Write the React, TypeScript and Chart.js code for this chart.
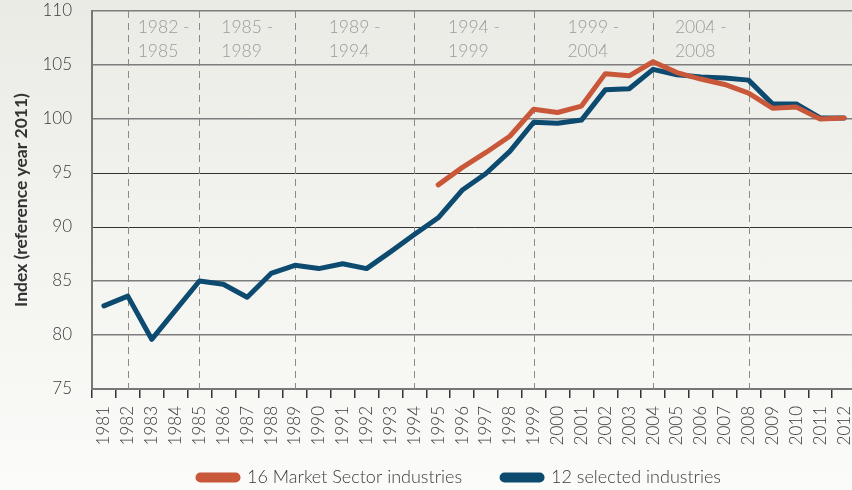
import React, { useEffect, useRef } from 'react';
import { Chart, registerables } from 'chart.js';

Chart.register(...registerables);

const years = [
  '1981', '1982', '1983', '1984', '1985', '1986', '1987', '1988', '1989', '1990',
  '1991', '1992', '1993', '1994', '1995', '1996', '1997', '1998', '1999', '2000',
  '2001', '2002', '2003', '2004', '2005', '2006', '2007', '2008', '2009', '2010',
  '2011', '2012',
];

const marketSector: (number | null)[] = [
  null, null, null, null, null, null, null, null, null, null,
  null, null, null, null, 93.9, 95.5, 96.9, 98.4, 100.9, 100.6,
  101.2, 104.2, 104.0, 105.3, 104.3, 103.7, 103.2, 102.4, 101.0, 101.1,
  100.0, 100.1,
];

const selectedIndustries = [
  82.7, 83.6, 79.6, 82.3, 85.0, 84.7, 83.5, 85.7, 86.45, 86.15,
  86.6, 86.15, 87.7, 89.3, 90.85, 93.4, 94.95, 97.0, 99.7, 99.6,
  99.9, 102.7, 102.8, 104.6, 104.1, 103.9, 103.8, 103.6, 101.4, 101.4,
  100.1, 100.1,
];

const periodBoundaries = ['1982', '1985', '1989', '1994', '1999', '2004', '2008'];

const seriesNames = ['16 Market Sector industries', '12 selected industries'];
const yTitle = 'Index (reference year 2011)';

const ORANGE = '#c9573a';
const BLUE = '#0c4a70';
const FONT = 'Lato, "Open Sans", sans-serif';

const periodPlugin = {
  id: 'periods',
  afterLayout(chart: any) {
    const lg = chart.legend;
    if (lg) {
      const dx = 31.5;
      const dy = -23.5;
      lg.left += dx;
      lg.right += dx;
      lg.top += dy;
      lg.bottom += dy;
    }
  },
  beforeDatasetsDraw(chart: any) {
    const { ctx, chartArea, scales } = chart;
    const x = scales.x;
    const px = periodBoundaries.map((y) => x.getPixelForValue(years.indexOf(y)));
    ctx.save();
    ctx.strokeStyle = '#8a8a8a';
    ctx.lineWidth = 1;
    ctx.setLineDash([7, 5]);
    px.forEach((p) => {
      const xx = Math.round(p) + 0.5;
      ctx.beginPath();
      ctx.moveTo(xx, chartArea.top);
      ctx.lineTo(xx, chartArea.bottom);
      ctx.stroke();
    });
    ctx.setLineDash([]);
    ctx.fillStyle = '#9a9a9a';
    ctx.font = `300 17.5px ${FONT}`;
    ctx.textAlign = 'left';
    ctx.textBaseline = 'alphabetic';
    for (let i = 0; i < periodBoundaries.length - 1; i++) {
      const mid = (px[i] + px[i + 1]) / 2;
      const l1 = `${periodBoundaries[i]} -`;
      const l2 = periodBoundaries[i + 1];
      const w = ctx.measureText(l1).width;
      const left = mid - w / 2;
      ctx.fillText(l1, left, chartArea.top + 22);
      ctx.fillText(l2, left, chartArea.top + 46);
    }
    ctx.restore();
  },
};

export default function App() {
  const ref = useRef<HTMLCanvasElement | null>(null);

  useEffect(() => {
    if (!ref.current) return;
    const chart = new Chart(ref.current, {
      type: 'line',
      data: {
        labels: years,
        datasets: [
          {
            label: seriesNames[0],
            data: marketSector,
            borderColor: ORANGE,
            backgroundColor: ORANGE,
            borderWidth: 5,
            pointRadius: 0,
            tension: 0,
            borderJoinStyle: 'round',
            borderCapStyle: 'round',
            spanGaps: false,
          },
          {
            label: seriesNames[1],
            data: selectedIndustries,
            borderColor: BLUE,
            backgroundColor: BLUE,
            borderWidth: 5,
            pointRadius: 0,
            tension: 0,
            borderJoinStyle: 'round',
            borderCapStyle: 'round',
          },
        ],
      },
      options: {
        responsive: false,
        animation: false,
        maintainAspectRatio: false,
        layout: { padding: { top: 11, left: 0, right: 0, bottom: 0 } },
        font: { family: FONT },
        plugins: {
          tooltip: { enabled: false },
          legend: {
            position: 'bottom',
            labels: {
              boxWidth: 40,
              boxHeight: 5,
              useBorderRadius: true,
              borderRadius: 2.5,
              padding: 40,
              color: '#3a3a3a',
              font: { family: FONT, size: 18, weight: '300' },
            },
          },
        },
        scales: {
          x: {
            type: 'category',
            offset: true,
            grid: {
              offset: true,
              drawOnChartArea: false,
              drawTicks: true,
              tickLength: 9,
              color: '#333',
              lineWidth: 1.5,
            },
            border: { display: true, color: '#777', width: 2 },
            ticks: {
              autoSkip: false,
              minRotation: 90,
              maxRotation: 90,
              padding: 8,
              color: '#3a3a3a',
              font: { family: FONT, size: 17, weight: '300' },
            },
            afterFit(scale: any) {
              scale.height = 63;
              scale.paddingLeft = 0;
              scale.paddingRight = 0;
            },
          },
          y: {
            min: 75,
            max: 110,
            ticks: {
              stepSize: 5,
              padding: 0,
              color: '#3a3a3a',
              font: { family: FONT, size: 17, weight: '300' },
            },
            grid: {
              drawTicks: true,
              tickLength: 20,
              tickColor: 'transparent',
              color: (c: any) => (c.tick && (c.tick.value === 95 || c.tick.value === 90) ? '#333' : '#7d7d7d'),
              lineWidth: (c: any) => (c.tick && (c.tick.value === 95 || c.tick.value === 90) ? 1 : 1.6),
            },
            border: { display: true, color: '#777', width: 2 },
            title: {
              display: true,
              text: yTitle,
              color: '#333',
              font: { family: FONT, size: 17.5, weight: 'bold' },
              padding: { top: 10.5, bottom: 0 },
            },
            afterFit(scale: any) {
              scale.width = 92;
            },
          },
        },
      },
      plugins: [periodPlugin],
    });
    return () => chart.destroy();
  }, []);

  return (
    <div
      style={{
        position: 'absolute',
        left: 0,
        top: 0,
        width: 852,
        height: 490,
        overflow: 'hidden',
        background: 'linear-gradient(to bottom, #ebebe6 0%, #f3f3ef 50%, #fbfbf9 100%)',
      }}
    >
      <canvas ref={ref} width={856} height={520} style={{ display: 'block' }} />
    </div>
  );
}
